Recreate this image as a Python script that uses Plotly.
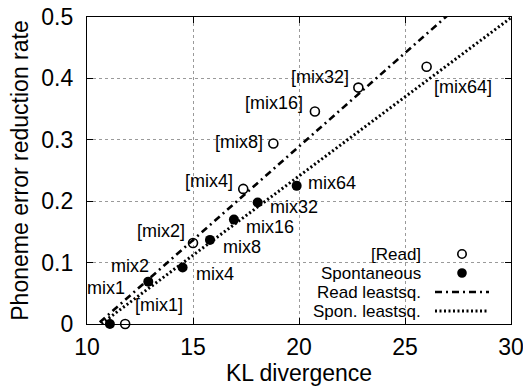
import numpy as np
import plotly.graph_objects as go

# ---- data ----
read_kl = [11.8, 15.0, 17.37, 18.79, 20.75, 22.8, 26.02]
read_rate = [0.0, 0.132, 0.22, 0.294, 0.346, 0.385, 0.419]
read_labels = ["[mix1]", "[mix2]", "[mix4]", "[mix8]", "[mix16]", "[mix32]", "[mix64]"]

spon_kl = [11.08, 12.89, 14.51, 15.8, 16.93, 18.05, 19.89]
spon_rate = [0.0, 0.069, 0.092, 0.137, 0.17, 0.198, 0.225]
spon_labels = ["mix1", "mix2", "mix4", "mix8", "mix16", "mix32", "mix64"]

x_ticks = [10, 15, 20, 25, 30]
y_ticks = [0, 0.1, 0.2, 0.3, 0.4, 0.5]
y_tick_text = ["0", "0.1", "0.2", "0.3", "0.4", "0.5"]
x_range = [10, 30]
y_range = [0, 0.5]

legend_names = ["[Read]", "Spontaneous", "Read leastsq.", "Spon. leastsq."]

# label placement (anchor, xshift px, yshift px)
read_label_pos = [("left", 8, 19), ("right", -6, 12), ("right", -8, 8), ("right", -8, 1),
                  ("right", -10, 9), ("right", -7, 11), ("left", 5, -20)]
spon_label_pos = [("right", 17, 36), ("right", 3, 16), ("left", 11, -6), ("left", 11, -7),
                  ("left", 10, -7), ("left", 10, -5), ("left", 9, 3)]

FONT = "Liberation Sans, Arial, Helvetica, sans-serif"

# least squares fits
rs, ri = np.polyfit(read_kl, read_rate, 1)
ss, si = np.polyfit(spon_kl, spon_rate, 1)
fx = np.array(x_range, dtype=float)

fig = go.Figure()

DASHDOT = "7px,4px,2px,4px"
DOTTED = "2px,2.5px"

fig.add_trace(go.Scatter(x=fx, y=rs * fx + ri, mode="lines",
                         line=dict(color="black", width=2.6, dash=DASHDOT),
                         showlegend=False, hoverinfo="skip"))
fig.add_trace(go.Scatter(x=fx, y=ss * fx + si, mode="lines",
                         line=dict(color="black", width=3, dash=DOTTED),
                         showlegend=False, hoverinfo="skip"))

fig.add_trace(go.Scatter(x=read_kl, y=read_rate, mode="markers",
                         marker=dict(symbol="circle-open", size=9, color="black",
                                     line=dict(width=1.6, color="black")),
                         showlegend=False, cliponaxis=False))
fig.add_trace(go.Scatter(x=spon_kl, y=spon_rate, mode="markers",
                         marker=dict(symbol="circle", size=10, color="black"),
                         showlegend=False, cliponaxis=False))

annotations = []
for x, y, t, (anc, dx, dy) in zip(read_kl, read_rate, read_labels, read_label_pos):
    annotations.append(dict(x=x, y=y, xref="x", yref="y", text=t, showarrow=False,
                            xanchor=anc, yanchor="middle", xshift=dx, yshift=dy,
                            font=dict(family=FONT, size=18, color="black")))
for x, y, t, (anc, dx, dy) in zip(spon_kl, spon_rate, spon_labels, spon_label_pos):
    annotations.append(dict(x=x, y=y, xref="x", yref="y", text=t, showarrow=False,
                            xanchor=anc, yanchor="middle", xshift=dx, yshift=dy,
                            font=dict(family=FONT, size=18, color="black")))

# custom legend (text right-aligned, sample on the right) in paper coords
# plot area: x 87..511, y 17..324 px
def px_x(p):
    return (p - 87) / (511 - 87)
def px_y(p):
    return (324 - p) / (324 - 17)

leg_rows = [254.0, 273.0, 292.0, 311.0]
text_right = 423
for name, yy in zip(legend_names, leg_rows):
    annotations.append(dict(x=px_x(text_right), y=px_y(yy), xref="paper", yref="paper",
                            text=name, showarrow=False, xanchor="right", yanchor="middle",
                            font=dict(family=FONT, size=17, color="black")))

shapes = []
cx = px_x(462)
shapes.append(dict(type="circle", xref="paper", yref="paper", xsizemode="pixel",
                   ysizemode="pixel", xanchor=cx, yanchor=px_y(leg_rows[0]),
                   x0=-4.2, x1=4.2, y0=-4.2, y1=4.2,
                   line=dict(color="black", width=1.6), fillcolor="rgba(0,0,0,0)"))
shapes.append(dict(type="circle", xref="paper", yref="paper", xsizemode="pixel",
                   ysizemode="pixel", xanchor=cx, yanchor=px_y(leg_rows[1]),
                   x0=-4.8, x1=4.8, y0=-4.8, y1=4.8,
                   line=dict(color="black", width=0), fillcolor="black"))
shapes.append(dict(type="line", xref="paper", yref="paper",
                   x0=px_x(435), x1=px_x(489), y0=px_y(leg_rows[2]), y1=px_y(leg_rows[2]),
                   line=dict(color="black", width=2.6, dash=DASHDOT)))
shapes.append(dict(type="line", xref="paper", yref="paper",
                   x0=px_x(435), x1=px_x(489), y0=px_y(leg_rows[3]), y1=px_y(leg_rows[3]),
                   line=dict(color="black", width=3, dash=DOTTED)))

axis_common = dict(showline=True, linecolor="black", linewidth=1.2, mirror="allticks",
                   ticks="inside", ticklen=6, tickwidth=1, tickcolor="black",
                   showgrid=True, gridcolor="#9a9a9a", griddash="dot", gridwidth=1,
                   zeroline=False, automargin=False, ticklabeloverflow="allow",
                   tickfont=dict(family=FONT, size=23, color="black"))

fig.update_layout(
    width=523, height=388,
    margin=dict(l=87, r=12, t=17, b=64),
    paper_bgcolor="white", plot_bgcolor="white",
    showlegend=False,
    annotations=annotations,
    shapes=shapes,
    xaxis=dict(range=x_range, tickvals=x_ticks, ticktext=[str(v) for v in x_ticks],
               title=dict(text="KL divergence", font=dict(family=FONT, size=23, color="black"),
                          standoff=4),
               ticklabelstandoff=2,
               **axis_common),
    yaxis=dict(range=y_range, tickvals=y_ticks, ticktext=y_tick_text,
               title=dict(text="Phoneme error reduction rate",
                          font=dict(family=FONT, size=23, color="black"), standoff=6),
               ticklabelstandoff=8,
               **axis_common),
)

fig.write_html("out.html", config={"displayModeBar": False},
               post_script="document.body.style.margin='0px';")
